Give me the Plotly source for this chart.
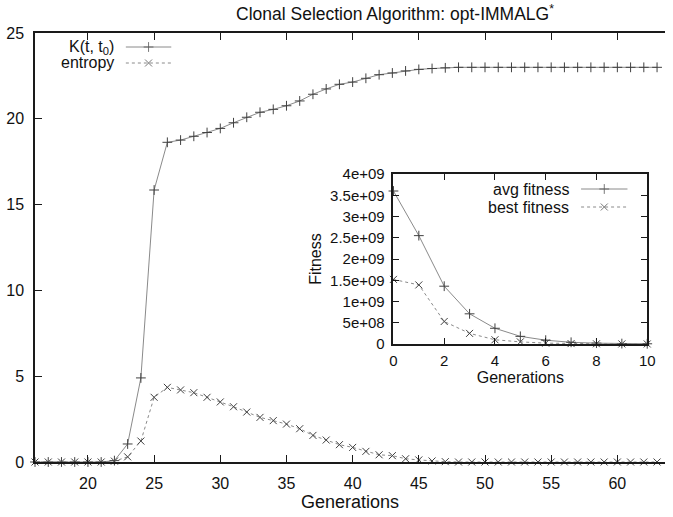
import plotly.graph_objects as go

# ---------------- data ----------------
generations = list(range(16, 64))
k_t_t0 = [0, 0, 0, 0, 0, 0,
          0.08, 1.05, 4.9, 15.85, 18.63, 18.76, 18.98, 19.2, 19.44, 19.77,
          20.09, 20.38, 20.55, 20.76, 21.04, 21.43, 21.74, 22.01, 22.14, 22.36,
          22.57, 22.67, 22.79, 22.88, 22.93, 22.97,
          23.0, 23.0, 23.0, 23.0, 23.0, 23.0, 23.0, 23.0,
          23.0, 23.0, 23.0, 23.0, 23.0, 23.0, 23.0, 23.0]
entropy = [0, 0, 0, 0, 0, 0,
           0.05, 0.3, 1.22, 3.77, 4.35, 4.2, 4.04, 3.77, 3.5, 3.22,
           2.91, 2.6, 2.41, 2.21, 1.94, 1.55, 1.28, 1.01, 0.85, 0.62,
           0.42, 0.37, 0.19, 0.12, 0.06, 0.02,
           0, 0, 0, 0, 0, 0, 0, 0,
           0, 0, 0, 0, 0, 0, 0, 0]

inset_gens = list(range(0, 11))
avg_fitness = [3.6e9, 2.55e9, 1.36e9, 0.71e9, 0.37e9, 0.18e9, 0.09e9, 0.04e9, 0.02e9, 0.01e9, 0.005e9]
best_fitness = [1.52e9, 1.39e9, 0.53e9, 0.25e9, 0.10e9, 0.05e9, 0.02e9, 0.01e9, 0.005e9, 0.002e9, 0.001e9]

main_xticks = [20, 25, 30, 35, 40, 45, 50, 55, 60]
main_yticks = [0, 5, 10, 15, 20, 25]
inset_xticks = [0, 2, 4, 6, 8, 10]
inset_yticks = [0, 5e8, 1e9, 1.5e9, 2e9, 2.5e9, 3e9, 3.5e9, 4e9]
inset_yticktext = ["0", "5e+08", "1e+09", "1.5e+09", "2e+09", "2.5e+09", "3e+09", "3.5e+09", "4e+09"]

# ---------------- style ----------------
FONT = "Liberation Sans, Arial, sans-serif"
LINE_C = "#8a8a8a"
MARK_C = "#404040"
AX_C = "#1a1a1a"
W, H = 673, 517
L, R, T, B = 35, 0, 33, 55
PW, PH = W - L - R, H - T - B
IX0, IX1, IY0, IY1 = 398, 655, 344, 174   # inset box in pixels
MSIZE = 7


def line_style(dash):
    return dict(color=LINE_C, width=1, dash=dash)


def marker_style(sym):
    return dict(symbol=sym, size=MSIZE, color=MARK_C, line=dict(color=MARK_C, width=1))


def px_x(p):
    return (p - L) / PW


def px_y(p):
    return (H - B - p) / PH


fig = go.Figure()

fig.add_trace(go.Scatter(x=generations, y=k_t_t0, mode="lines+markers",
                         line=line_style("solid"), marker=marker_style("cross-thin"),
                         showlegend=False, cliponaxis=False))
fig.add_trace(go.Scatter(x=generations, y=entropy, mode="lines+markers",
                         line=line_style("3px,3px"), marker=marker_style("x-thin"),
                         showlegend=False, cliponaxis=False))

fig.add_trace(go.Scatter(x=inset_gens, y=avg_fitness, mode="lines+markers",
                         xaxis="x2", yaxis="y2",
                         line=line_style("solid"), marker=marker_style("cross-thin"),
                         showlegend=False, cliponaxis=False))
fig.add_trace(go.Scatter(x=inset_gens, y=best_fitness, mode="lines+markers",
                         xaxis="x2", yaxis="y2",
                         line=line_style("3px,3px"), marker=marker_style("x-thin"),
                         showlegend=False, cliponaxis=False))

# legend samples (gnuplot style: text then sample) on hidden pixel-scaled overlay axes
legend_items = [
    ("K(t, t<sub>0</sub>)", "solid", "cross-thin", 117, 127, 173, 47, "x3", "y3"),
    ("entropy", "3px,3px", "x-thin", 117, 127, 173, 63, "x3", "y3"),
    ("avg fitness", "solid", "cross-thin", 578, 588, 635, 189, "x4", "y4"),
    ("best fitness", "3px,3px", "x-thin", 578, 588, 635, 207, "x4", "y4"),
]
annotations = []
for label, dash, sym, tx, x0, x1, yy, xa, ya in legend_items:
    fig.add_trace(go.Scatter(x=[x0, (x0 + x1) / 2, x1], y=[yy, yy, yy], mode="lines+markers",
                             xaxis=xa, yaxis=ya,
                             line=line_style(dash),
                             marker=dict(symbol=sym, size=[0, MSIZE, 0], color=MARK_C,
                                         line=dict(color=MARK_C, width=1)),
                             showlegend=False, hoverinfo="skip", cliponaxis=False))
    annotations.append(dict(x=px_x(tx), y=px_y(yy), xref="paper", yref="paper", text=label,
                            showarrow=False, xanchor="right", yanchor="middle",
                            font=dict(family=FONT, size=16, color="#111")))

annotations.append(dict(x=px_x(400), y=px_y(13), xref="paper", yref="paper",
                        text="Clonal Selection Algorithm: opt-IMMALG<sup>*</sup>",
                        showarrow=False, xanchor="center", yanchor="middle",
                        font=dict(family=FONT, size=17.5, color="#111")))

axis_common = dict(showgrid=False, zeroline=False, showline=True, linecolor=AX_C,
                   ticks="inside", tickcolor=AX_C, tickfont=dict(family=FONT, size=16, color="#111"))

fig.update_layout(
    width=W, height=H,
    margin=dict(l=L, r=R, t=T, b=B, pad=0),
    paper_bgcolor="white", plot_bgcolor="white",
    font=dict(family=FONT, color="#111"),
    showlegend=False,
    annotations=annotations,
    xaxis=dict(axis_common, domain=[0, 1], range=[16, 63.6], tickvals=main_xticks,
               ticklen=7, linewidth=1.5, mirror="ticks", ticklabelstandoff=6,
               title=dict(text="Generations", font=dict(family=FONT, size=18), standoff=4)),
    yaxis=dict(axis_common, domain=[0, 1], range=[0, 25], tickvals=main_yticks,
               ticklen=7, linewidth=1.5, mirror=False, ticklabelstandoff=6),
    xaxis2=dict(axis_common, domain=[px_x(IX0), px_x(IX1)], anchor="y2", range=[0, 10],
                tickvals=inset_xticks, ticklen=6, linewidth=1.5, mirror="ticks",
                tickfont=dict(family=FONT, size=15, color="#111"), ticklabelstandoff=2,
                title=dict(text="Generations", font=dict(family=FONT, size=16), standoff=2)),
    yaxis2=dict(axis_common, domain=[px_y(IY0), px_y(IY1)], anchor="x2", range=[0, 4e9],
                tickvals=inset_yticks, ticktext=inset_yticktext, ticklen=6, linewidth=1.5,
                mirror="ticks", tickfont=dict(family=FONT, size=15, color="#111"),
                ticklabelstandoff=4,
                title=dict(text="Fitness", font=dict(family=FONT, size=16), standoff=4)),
    xaxis3=dict(overlaying="x", range=[L, W - R], visible=False, fixedrange=True),
    yaxis3=dict(overlaying="y", range=[H - B, T], visible=False, fixedrange=True),
    xaxis4=dict(overlaying="x2", anchor="y4", range=[IX0, IX1], visible=False, fixedrange=True),
    yaxis4=dict(overlaying="y2", anchor="x4", range=[IY0, IY1], visible=False, fixedrange=True),
)

fig.write_html("out.html")
